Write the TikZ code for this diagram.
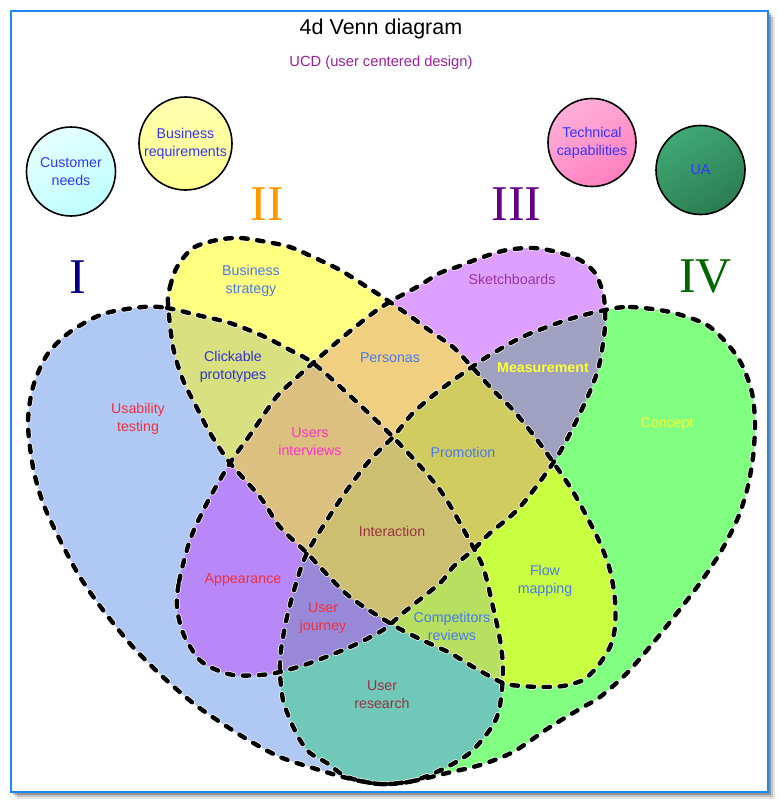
\documentclass[tikz,border=0pt]{standalone}
\usepackage{fontspec}
\setmainfont{Liberation Sans}
\newfontfamily\numfont{Liberation Serif}
\usepackage{xcolor}
\usepackage{tikz}
\usetikzlibrary{positioning}

% region colours
\definecolor{setone}{HTML}{B0C8F4}
\definecolor{settwo}{HTML}{FFFF80}
\definecolor{setthree}{HTML}{DDA0FF}
\definecolor{setfour}{HTML}{80FF80}
\definecolor{onetwo}{HTML}{D8E080}
\definecolor{onethree}{HTML}{B888F8}
\definecolor{onefour}{HTML}{70C8B8}
\definecolor{twothree}{HTML}{F0D080}
\definecolor{twofour}{HTML}{C8FF40}
\definecolor{threefour}{HTML}{A0A0C0}
\definecolor{onetwothree}{HTML}{DCC080}
\definecolor{onetwofour}{HTML}{B8E060}
\definecolor{onethreefour}{HTML}{9888D8}
\definecolor{twothreefour}{HTML}{D0CC60}
\definecolor{allfour}{HTML}{CCC070}
% text colours
\definecolor{txtblue}{HTML}{3333FF}
\definecolor{txtdeep}{HTML}{3333CC}
\definecolor{txtsky}{HTML}{4A78E8}
\definecolor{txtred}{HTML}{F03040}
\definecolor{txtmagenta}{HTML}{FF33CC}
\definecolor{txtpurple}{HTML}{993399}
\definecolor{txtmaroon}{HTML}{993344}
\definecolor{txtyellow}{HTML}{FFFF33}
\definecolor{ucdpurple}{HTML}{A0209A}
\definecolor{frameblue}{HTML}{1E88F0}
\definecolor{numnavy}{HTML}{000080}
\definecolor{numorange}{HTML}{FF9900}
\definecolor{numpurple}{HTML}{660088}
\definecolor{numgreen}{HTML}{006600}
% circle colours
\definecolor{cyantop}{HTML}{E6FFFF}
\definecolor{cyanbot}{HTML}{BEFFFF}
\definecolor{yellowtop}{HTML}{FFFFB0}
\definecolor{yellowbot}{HTML}{FFFF90}
\definecolor{pinktop}{HTML}{FFB0D8}
\definecolor{pinkbot}{HTML}{FF80C0}
\definecolor{seatop}{HTML}{40A874}
\definecolor{seabot}{HTML}{2A7D52}

% the four sets
\newcommand{\vennI}{plot[smooth cycle] coordinates {
  (143,307) (167,308) (197,315) (230,323) (263,336) (290,350) (313,363)
  (347,393) (393,437) (440,490) (473,547) (484,570) (493,607) (500,640)
  (503,673) (497,717) (473,750) (447,767) (413,781) (380,784) (347,778)
  (313,768) (280,757) (250,741) (220,722) (193,703) (163,677) (133,647)
  (103,610) (80,577) (60,540) (43,503) (33,467) (28,423) (33,387)
  (47,355) (70,332) (103,314)}}
\newcommand{\vennII}{plot[smooth cycle] coordinates {
  (168,303) (170,287) (177,267) (193,248) (217,240) (240,238) (267,242)
  (290,247) (313,257) (340,270) (367,287) (387,300) (410,316) (433,333)
  (453,347) (472,367) (493,390) (513,410) (535,437) (553,462) (572,490)
  (587,517) (600,543) (610,570) (615,600) (615,627) (610,647) (597,667)
  (583,680) (563,686) (543,687) (522,686) (503,683) (475,668) (450,653)
  (420,639) (393,625) (350,597) (320,567) (307,553) (280,527) (260,497)
  (230,463) (210,433) (198,410) (183,380) (173,347)}}
\newcommand{\vennIII}{plot[smooth cycle] coordinates {
  (177,607) (179,582) (190,540) (207,503) (230,463) (250,435) (267,410)
  (280,393) (313,363) (343,337) (373,313) (393,300) (417,287) (440,273)
  (457,267) (483,257) (507,250) (533,248) (557,252) (580,260) (595,273)
  (603,293) (605,310) (605,327) (602,350) (597,373) (583,407) (557,457)
  (520,507) (490,533) (473,550) (453,567) (440,583) (403,613) (383,630)
  (350,647) (310,663) (280,672) (260,675) (233,675) (210,667) (197,657)
  (183,633)}}
\newcommand{\vennIV}{plot[smooth cycle] coordinates {
  (605,310) (630,307) (670,312) (707,325) (730,347) (743,367) (752,393)
  (755,423) (753,457) (747,490) (737,520) (720,553) (700,583) (677,613)
  (653,643) (627,673) (600,697) (583,707) (550,727) (513,752) (480,765)
  (447,773) (413,781) (380,784) (347,777) (327,763) (310,753) (300,740)
  (291,722) (283,700) (280,673) (281,650) (287,617) (297,580) (307,553)
  (327,520) (347,490) (370,460) (393,437) (413,413) (440,390) (472,367)
  (490,355) (520,338) (547,327) (573,318)}}

\begin{document}
\begin{tikzpicture}[
        x=1pt, y=-1pt,
        lbl/.style={font=\fontsize{14.2}{18}\selectfont, align=center},
        ball/.style={
            circle, draw=black, line width=1.6pt, inner sep=0pt,
            font=\fontsize{14.2}{18}\selectfont, text=txtblue, align=center
        },
        numeral/.style={font=\numfont\fontsize{50}{50}\selectfont, inner sep=0pt},
        halo/.style={draw=white, line width=5.8pt, line cap=round, dash pattern=on 6.5pt off 9.5pt},
        setline/.style={draw=black, line width=4.4pt, line cap=round, dash pattern=on 6.5pt off 9.5pt}
    ]
    \useasboundingbox (0,0) rectangle (779,804);
    % frame with its shadow
    \fill[black, opacity=0.10] (17,17) rectangle (775,799);
    \fill[black, opacity=0.15] (15,15) rectangle (773,797);
    \fill[black, opacity=0.25] (13,13) rectangle (771,795);
    \draw[fill=white, draw=frameblue, line width=1.6pt] (11,11) rectangle (768,792);

    % single sets
    \fill[setone] \vennI;
    \fill[settwo] \vennII;
    \fill[setthree] \vennIII;
    \fill[setfour] \vennIV;
    % pairs
    \begin{scope}
        \clip \vennI;
        \fill[onetwo] \vennII;
        \fill[onethree] \vennIII;
        \fill[onefour] \vennIV;
    \end{scope}
    \begin{scope}
        \clip \vennII;
        \fill[twothree] \vennIII;
        \fill[twofour] \vennIV;
    \end{scope}
    \begin{scope}
        \clip \vennIII;
        \fill[threefour] \vennIV;
    \end{scope}
    % triples
    \begin{scope}
        \clip \vennI; \clip \vennII;
        \fill[onetwothree] \vennIII;
        \fill[onetwofour] \vennIV;
    \end{scope}
    \begin{scope}
        \clip \vennI; \clip \vennIII;
        \fill[onethreefour] \vennIV;
    \end{scope}
    \begin{scope}
        \clip \vennII; \clip \vennIII;
        \fill[twothreefour] \vennIV;
    \end{scope}
    % all four
    \begin{scope}
        \clip \vennI; \clip \vennII; \clip \vennIII;
        \fill[allfour] \vennIV;
    \end{scope}

    % dashed outlines
    \draw[halo] \vennI;
    \draw[halo] \vennII;
    \draw[halo] \vennIII;
    \draw[halo] \vennIV;
    \draw[setline] \vennI;
    \draw[setline] \vennII;
    \draw[setline] \vennIII;
    \draw[setline] \vennIV;

    % region labels
    \node[lbl, text=txtred] (usability) at (138,419) {Usability\\testing};
    \node[lbl, text=txtsky] (strategy) at (251,281) {Business\\strategy};
    \node[lbl, text=txtpurple] (sketch) at (512,279) {Sketchboards};
    \node[lbl, text=txtyellow] (concept) at (667,424) {Concept};
    \node[lbl, text=txtdeep] (clickable) at (233,367) {Clickable\\prototypes};
    \node[lbl, text=txtsky] (personas) at (390,358) {Personas};
    \node[lbl, text=txtyellow, font=\fontsize{14.2}{18}\selectfont\bfseries] (measure) at (543,368) {Measurement};
    \node[lbl, text=txtmagenta] (interviews) at (310,442) {Users\\interviews};
    \node[lbl, text=txtsky] (promotion) at (463,452) {Promotion};
    \node[lbl, text=txtmaroon] (interaction) at (392,531) {Interaction};
    \node[lbl, text=txtred] (appearance) at (243,580) {Appearance};
    \node[lbl, text=txtred] (journey) at (323,618) {User\\journey};
    \node[lbl, text=txtsky] (competitors) at (452,626) {Competitors\\reviews};
    \node[lbl, text=txtsky] (flow) at (545,581) {Flow\\mapping};
    \node[lbl, text=txtmaroon] (research) at (382,695) {User\\research};

    % set numerals
    \node[numeral, text=numnavy] (numI) at (77.5,277) {I};
    \node[numeral, text=numorange] (numII) at (267,204.5) {II};
    \node[numeral, text=numpurple] (numIII) at (516.5,204.5) {III};
    \node[numeral, text=numgreen] (numIV) at (705.5,277) {IV};

    % side circles
    \node[ball, minimum size=89pt, top color=cyantop, bottom color=cyanbot, shading angle=30]
        (customer) at (71,171.5) {Customer\\needs};
    \node[ball, minimum size=93pt, top color=yellowtop, bottom color=yellowbot]
        (business) at (185.5,143.5) {Business\\requirements};
    \node[ball, minimum size=88pt, top color=pinktop, bottom color=pinkbot, shading angle=30]
        (technical) at (592,142.5) {Technical\\capabilities};
    \node[ball, minimum size=89pt, top color=seatop, bottom color=seabot, shading angle=30]
        (ua) at (700.5,170) {UA};

    % titles
    \node[font=\fontsize{21.5}{24}\selectfont] (title) at (381,29) {4d Venn diagram};
    \node[font=\fontsize{14.7}{17}\selectfont, text=ucdpurple] (ucd) at (381,63) {UCD (user centered design)};
\end{tikzpicture}
\end{document}
